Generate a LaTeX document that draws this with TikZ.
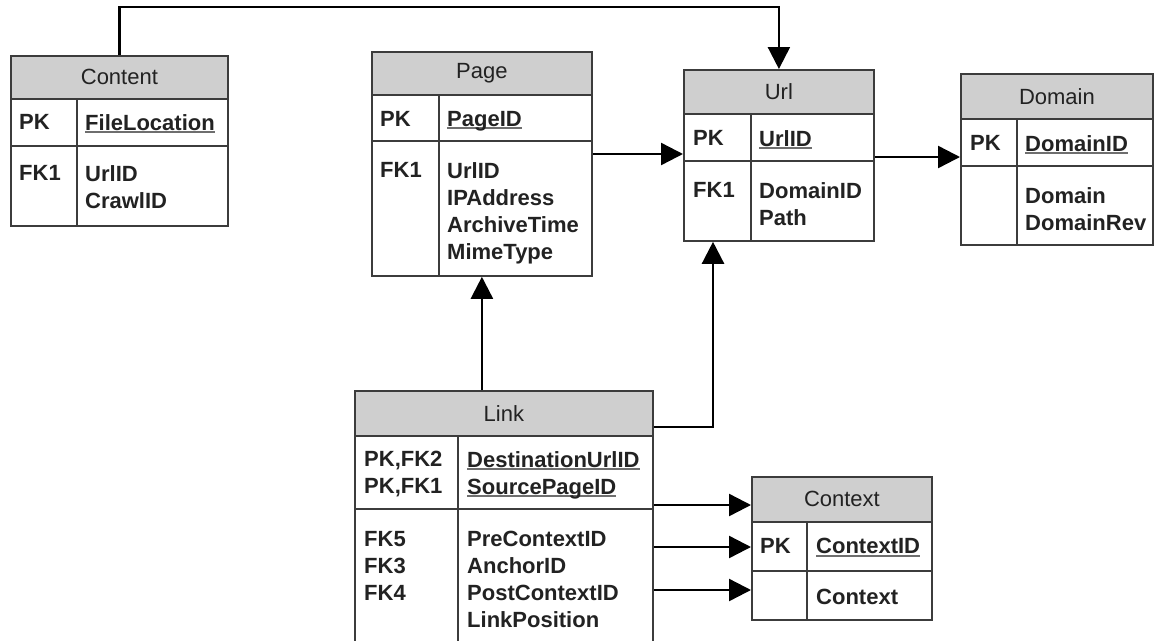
\documentclass[tikz,border=0pt]{standalone}
\usepackage{fontspec}
\setmainfont{Liberation Sans}
\usetikzlibrary{positioning,arrows.meta}
\definecolor{headgray}{HTML}{CFCFCF}
\definecolor{linegray}{HTML}{3C3C3C}
\definecolor{textgray}{HTML}{222222}
\definecolor{ulgray}{HTML}{6E6E6E}
\newcommand\keyname[1]{\setbox0\hbox{#1}\rlap{\smash{\color{ulgray}\rule[-3pt]{\wd0}{2pt}}}\box0}

\begin{document}
\begin{tikzpicture}[x=1pt,y=-1pt,
    tbl/.style={draw=linegray,line width=1.8pt,inner sep=0pt,anchor=north west},
    head/.style={tbl,fill=headgray,text=textgray,font=\fontsize{22}{27}\selectfont},
    txt/.style={inner sep=0pt,align=left,text=textgray,font=\bfseries\fontsize{22}{27}\selectfont},
    fk/.style={-{Triangle[length=22pt,width=22pt]},line width=2.4pt}]
   \fill[white] (0,0) rectangle (1155,640);
   \useasboundingbox (0,0) rectangle (1155,640);

   % Content
   \node[head,minimum width=217pt,minimum height=43pt] (content) at (10,55) {Content};
   \node[tbl,minimum width=66pt,minimum height=47pt] (content-pk) at (10,98) {};
   \node[tbl,minimum width=151pt,minimum height=47pt] (content-pkf) at (76,98) {};
   \node[tbl,minimum width=66pt,minimum height=80pt] (content-fk) at (10,145) {};
   \node[tbl,minimum width=151pt,minimum height=80pt] (content-f) at (76,145) {};
   \node[txt,below right=16pt and 9pt of content-pk.north west] (content-pkt) {PK};
   \node[txt,below right=16pt and 9pt of content-pkf.north west] (content-pkft) {\keyname{FileLocation}};
   \node[txt,below right=20pt and 9pt of content-fk.north west] (content-fkt) {FK1};
   \node[txt,below right=20pt and 9pt of content-f.north west] (content-ft) {UrlID\\CrawlID};

   % Page
   \node[head,minimum width=220pt,minimum height=43pt] (page) at (371,51) {Page};
   \node[tbl,minimum width=67pt,minimum height=46pt] (page-pk) at (371,94) {};
   \node[tbl,minimum width=153pt,minimum height=46pt] (page-pkf) at (438,94) {};
   \node[tbl,minimum width=67pt,minimum height=135pt] (page-fk) at (371,140) {};
   \node[tbl,minimum width=153pt,minimum height=135pt] (page-f) at (438,140) {};
   \node[txt,below right=17pt and 9pt of page-pk.north west] (page-pkt) {PK};
   \node[txt,below right=17pt and 9pt of page-pkf.north west] (page-pkft) {\keyname{PageID}};
   \node[txt,below right=22pt and 9pt of page-fk.north west] (page-fkt) {FK1};
   \node[txt,below right=22pt and 9pt of page-f.north west] (page-ft) {UrlID\\IPAddress\\ArchiveTime\\MimeType};

   % Url
   \node[head,minimum width=190pt,minimum height=44pt] (url) at (683,69) {Url};
   \node[tbl,minimum width=67pt,minimum height=47pt] (url-pk) at (683,113) {};
   \node[tbl,minimum width=123pt,minimum height=47pt] (url-pkf) at (750,113) {};
   \node[tbl,minimum width=67pt,minimum height=80pt] (url-fk) at (683,160) {};
   \node[tbl,minimum width=123pt,minimum height=80pt] (url-f) at (750,160) {};
   \node[txt,below right=17pt and 10pt of url-pk.north west] (url-pkt) {PK};
   \node[txt,below right=17pt and 9pt of url-pkf.north west] (url-pkft) {\keyname{UrlID}};
   \node[txt,below right=22pt and 10pt of url-fk.north west] (url-fkt) {FK1};
   \node[txt,below right=22pt and 9pt of url-f.north west] (url-ft) {DomainID\\Path};

   % Domain
   \node[head,minimum width=192pt,minimum height=45pt] (domain) at (960,73) {Domain};
   \node[tbl,minimum width=56pt,minimum height=47pt] (domain-pk) at (960,118) {};
   \node[tbl,minimum width=136pt,minimum height=47pt] (domain-pkf) at (1016,118) {};
   \node[tbl,minimum width=56pt,minimum height=79pt] (domain-fk) at (960,165) {};
   \node[tbl,minimum width=136pt,minimum height=79pt] (domain-f) at (1016,165) {};
   \node[txt,below right=17pt and 10pt of domain-pk.north west] (domain-pkt) {PK};
   \node[txt,below right=17pt and 9pt of domain-pkf.north west] (domain-pkft) {\keyname{DomainID}};
   \node[txt,below right=22pt and 9pt of domain-f.north west] (domain-ft) {Domain\\DomainRev};

   % Link
   \node[head,minimum width=298pt,minimum height=45pt] (link) at (354,390) {Link};
   \node[tbl,minimum width=103pt,minimum height=73pt] (link-pk) at (354,435) {};
   \node[tbl,minimum width=195pt,minimum height=73pt] (link-pkf) at (457,435) {};
   \node[tbl,minimum width=103pt,minimum height=136pt] (link-fk) at (354,508) {};
   \node[tbl,minimum width=195pt,minimum height=136pt] (link-f) at (457,508) {};
   \node[txt,below right=16pt and 10pt of link-pk.north west] (link-pkt) {PK,FK2\\PK,FK1};
   \node[txt,below right=16pt and 10pt of link-pkf.north west] (link-pkft) {\keyname{DestinationUrlID}\\\keyname{SourcePageID}};
   \node[txt,below right=23pt and 10pt of link-fk.north west] (link-fkt) {FK5\\FK3\\FK4};
   \node[txt,below right=23pt and 10pt of link-f.north west] (link-ft) {PreContextID\\AnchorID\\PostContextID\\LinkPosition};

   % Context
   \node[head,minimum width=180pt,minimum height=45pt] (context) at (751,476) {Context};
   \node[tbl,minimum width=55pt,minimum height=49pt] (context-pk) at (751,521) {};
   \node[tbl,minimum width=125pt,minimum height=49pt] (context-pkf) at (806,521) {};
   \node[tbl,minimum width=55pt,minimum height=49pt] (context-fk) at (751,570) {};
   \node[tbl,minimum width=125pt,minimum height=49pt] (context-f) at (806,570) {};
   \node[txt,below right=17pt and 9pt of context-pk.north west] (context-pkt) {PK};
   \node[txt,below right=17pt and 10pt of context-pkf.north west] (context-pkft) {\keyname{ContextID}};
   \node[txt,below right=19pt and 10pt of context-f.north west] (context-ft) {Context};

   % references
   \draw[fk] (content.north) -- ++(0,-48) -| (url.north);
   \draw[fk] (page-f.east |- 0,154) -- (url-pk.west |- 0,154);
   \draw[fk] (url-pkf.east |- 0,157) -- (domain-pk.west |- 0,157);
   \draw[fk] (link.north -| page.south) -- (page.south |- page-f.south);
   \draw[fk] (link.east |- 0,427) -| (url-fk.south -| 713,0);
   \draw[fk] (link-pkf.east |- 0,505) -- (context.west |- 0,505);
   \draw[fk] (link-f.east |- 0,547) -- (context-pk.west |- 0,547);
   \draw[fk] (link-f.east |- 0,590) -- (context-fk.west |- 0,590);
\end{tikzpicture}
\end{document}
